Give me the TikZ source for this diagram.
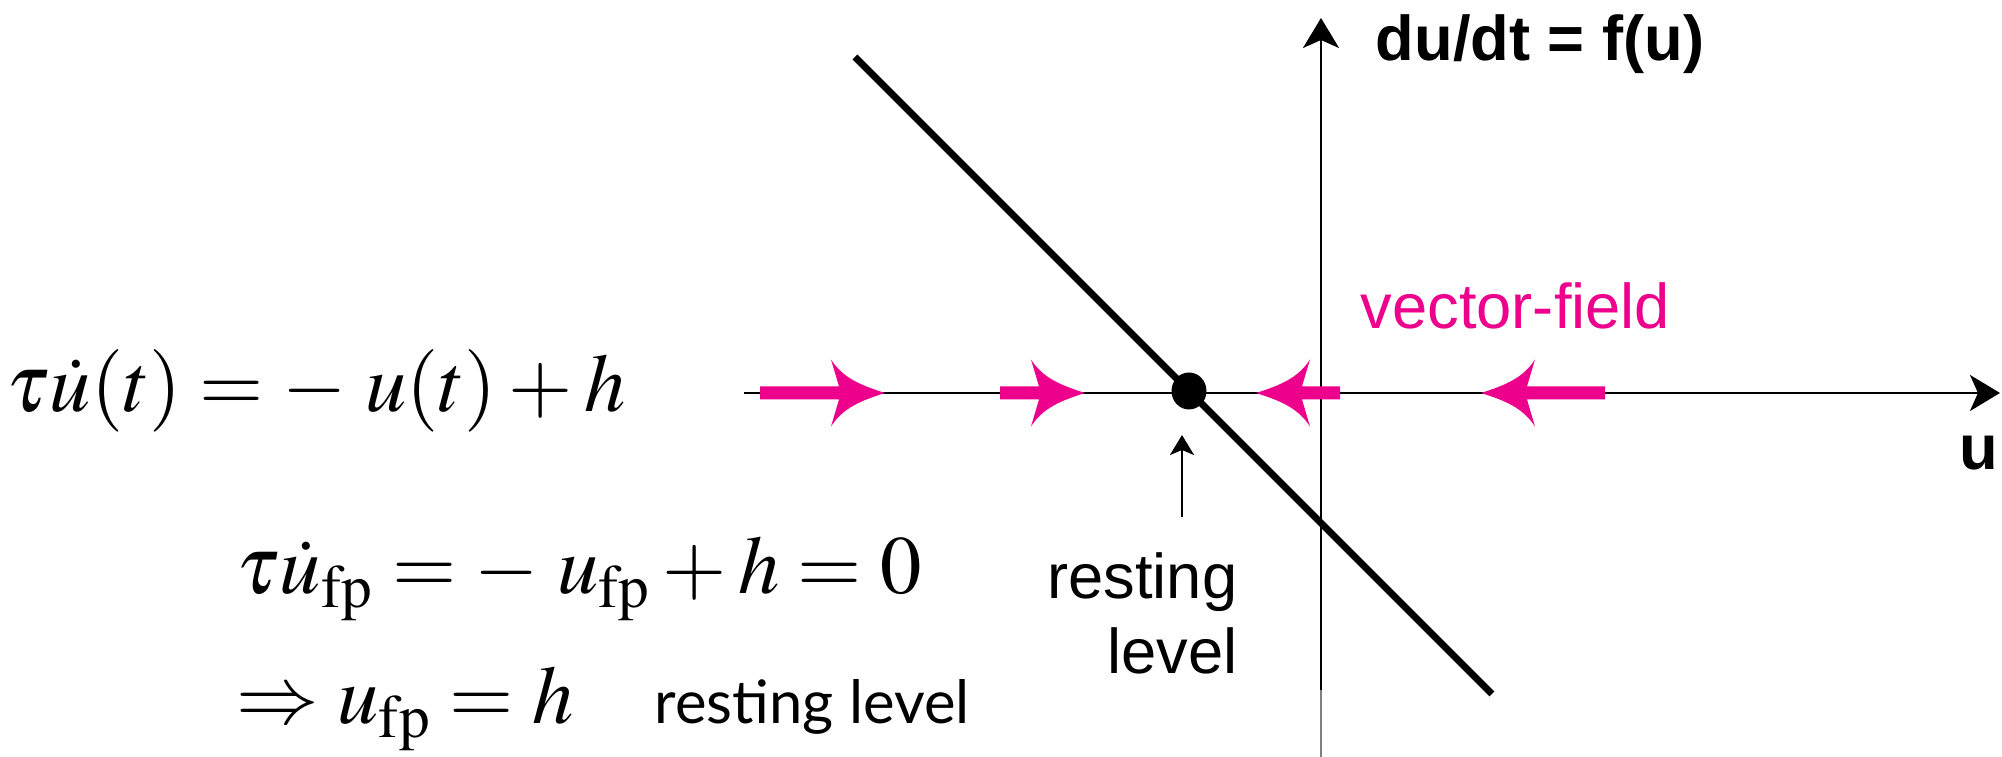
\documentclass[tikz,border=0pt]{standalone}
\usepackage{amsmath}
\usepackage{mathptmx}
\usepackage[no-math]{fontspec}
\newfontfamily\helv{Liberation Sans}
\newfontfamily\gill{Lato}
\usetikzlibrary{arrows.meta}
\definecolor{fieldmag}{HTML}{EC008C}

\begin{document}
\begin{tikzpicture}[>=Stealth,
  axis/.style={line width=0.75pt,-{Stealth[length=0.3cm,width=0.36cm,inset=0.08cm]}},
  vfield/.style={fill=fieldmag},
  eqn/.style={anchor=base west,inner sep=0pt,font=\fontsize{23.5}{28}\selectfont},
  lbl/.style={inner sep=0pt,font=\helv\fontsize{18}{21.6}\selectfont}]
  \def\fieldarrow#1#2#3{%
    \begin{scope}[shift={(#1,3.64)},xscale=#3]
      \fill[vfield] (0,0) .. controls (-0.25,0.08) and (-0.42,0.15) .. (-0.54,0.335)
        -- (-0.46,0.065) -- (-#2,0.065) -- (-#2,-0.065) -- (-0.46,-0.065)
        -- (-0.54,-0.335) .. controls (-0.42,-0.15) and (-0.25,-0.08) .. cycle;
    \end{scope}}
  \useasboundingbox (0,0) rectangle (20.02,7.57);
  % axes
  \coordinate (ustart) at (7.44,3.64);
  \coordinate (uend) at (20.00,3.64);
  \coordinate (fbot) at (13.21,0.67);
  \coordinate (ftop) at (13.21,7.39);
  \draw[axis] (ustart) -- (uend);
  \draw[axis] (fbot) -- (ftop);
  \draw[gray,line width=0.4pt] (13.21,0) -- (fbot);
  \node[lbl,anchor=base west,font=\helv\bfseries\fontsize{18}{22}\selectfont] (ulab) at (19.59,2.87) {u};
  \node[lbl,anchor=base west,font=\helv\bfseries\fontsize{18}{22}\selectfont] (flab) at (13.75,6.96) {du/dt = f(u)};
  % f(u) = -u + h
  \draw[line width=2pt] (8.55,7.00) -- (14.92,0.63);
  % vector field
  \fieldarrow{8.85}{1.25}{1}
  \fieldarrow{10.85}{0.85}{1}
  \fieldarrow{12.56}{0.84}{-1}
  \fieldarrow{14.81}{1.24}{-1}
  \node[lbl,anchor=base west,text=fieldmag] (vlab) at (13.60,4.28) {vector-field};
  % fixed point
  \fill (11.89,3.66) ellipse (0.175 and 0.185);
  \node[lbl,anchor=base east,align=right] (rest) at (12.38,0.83) {resting\\level};
  \coordinate (pin) at (11.82,3.22);
  \draw[line width=0.75pt,-{Stealth[length=0.2cm,width=0.24cm,inset=0.05cm]}] (11.82,2.40) -- (pin);
  % equations
  \node[eqn] (eqa) at (0.06,3.45) {$\tau\dot{u}(t) = -\;u(t) + h$};
  \node[eqn] (eqb) at (2.36,1.63) {$\tau\dot{u}_{\mathrm{fp}} = -\;u_{\mathrm{fp}} + h = 0$};
  \node[eqn] (eqc) at (2.36,0.33) {$\Rightarrow u_{\mathrm{fp}} = h$};
  \node[inner sep=0pt,anchor=base west,font=\gill\fontsize{17}{20}\selectfont] (rlev) at (6.54,0.33) {resting level};
\end{tikzpicture}
\end{document}
